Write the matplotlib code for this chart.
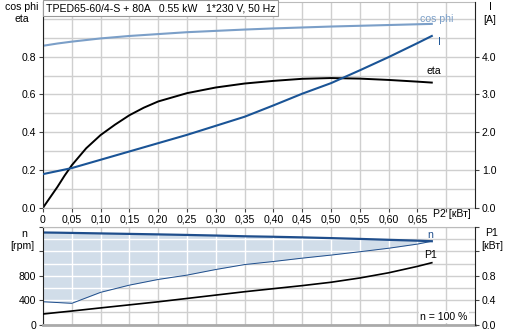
import matplotlib
matplotlib.use("Agg")
import matplotlib.pyplot as plt
import numpy as np

plt.rcParams['font.family'] = ['Liberation Sans', 'DejaVu Sans']
plt.rcParams['font.size'] = 7.6

# P2, кВт
p2 = [0, 0.025, 0.05, 0.1, 0.15, 0.2, 0.25, 0.3, 0.35, 0.4, 0.45, 0.5, 0.55, 0.6, 0.65, 0.675]
cos_phi = [0.858, 0.870, 0.880, 0.897, 0.910, 0.920, 0.930, 0.937, 0.944, 0.950,
           0.955, 0.960, 0.964, 0.968, 0.972, 0.974]
current = [0.89, 0.97, 1.05, 1.27, 1.49, 1.71, 1.93, 2.17, 2.41, 2.71,
           3.02, 3.30, 3.64, 3.99, 4.36, 4.55]
n_rpm = [1510, 1507, 1503, 1495, 1487, 1479, 1470, 1460, 1448, 1440,
         1430, 1418, 1405, 1390, 1376, 1367]
n_low = [376, 363, 350, 530, 648, 741, 812, 904, 985, 1035,
         1090, 1140, 1195, 1252, 1320, 1367]
p1 = [0.175, 0.2, 0.224, 0.275, 0.325, 0.375, 0.43, 0.485, 0.54, 0.59,
      0.64, 0.695, 0.765, 0.85, 0.955, 1.015]

p2_eta = [0, 0.0125, 0.025, 0.0375, 0.05, 0.075, 0.1, 0.125, 0.15, 0.175, 0.2, 0.25,
          0.3, 0.35, 0.4, 0.45, 0.5, 0.55, 0.6, 0.65, 0.675]
eta = [0.0, 0.055, 0.11, 0.17, 0.225, 0.315, 0.385, 0.44, 0.49, 0.53, 0.563, 0.607,
       0.637, 0.658, 0.672, 0.683, 0.687, 0.684, 0.677, 0.668, 0.663]

xticks = [0, 0.05, 0.10, 0.15, 0.20, 0.25, 0.30, 0.35, 0.40, 0.45, 0.50, 0.55, 0.60, 0.65, 0.70]
xlabels = ['0', '0,05', '0,10', '0,15', '0,20', '0,25', '0,30', '0,35', '0,40',
           '0,45', '0,50', '0,55', '0,60', '0,65', '']

c_cos = '#7b9fc8'
c_i = '#1a5496'
c_n = '#1f4e8c'
c_fill = '#d1dde9'
c_grid = '#cfcfcf'

fig = plt.figure(figsize=(5.08, 3.33), dpi=100)
W, H = 508, 333
L, R = 43, 475


def axes_px(top, bottom):
    return fig.add_axes([L / W, 1 - bottom / H, (R - L) / W, (bottom - top) / H])


# ---- верхний график ----
ax1 = axes_px(2, 207.7)
ax1.set_xlim(0, 0.75)
ax1.set_ylim(0, 1.09)
ax1.set_xticks(xticks)
ax1.set_xticklabels(xlabels)
ax1.set_yticks([0, 0.2, 0.4, 0.6, 0.8])
ax1.set_yticklabels(['0.0', '0.2', '0.4', '0.6', '0.8'])
ax1.set_yticks(np.arange(0.1, 1.05, 0.1), minor=True)
ax1.grid(True, which='both', color=c_grid, linewidth=1)
ax1.set_axisbelow(True)
ax1.tick_params(which='minor', length=0)
ax1.tick_params(length=3, width=0.8, color='#444444', pad=2)
for s in ['top', 'bottom']:
    ax1.spines[s].set_color('#bbbbbb')
ax1.spines['left'].set_color('#222222')
ax1.spines['right'].set_visible(False)

ax1.plot(p2, cos_phi, color=c_cos, linewidth=1.5)
ax1.plot(p2_eta, eta, color='black', linewidth=1.4)

ax1r = ax1.twinx()
ax1r.set_ylim(0, 5.45)
ax1r.set_yticks([0, 1, 2, 3, 4])
ax1r.set_yticklabels(['0.0', '1.0', '2.0', '3.0', '4.0'])
ax1r.tick_params(length=3, width=0.8, color='#444444', pad=2)
ax1r.spines['right'].set_color('#222222')
for s in ['top', 'bottom', 'left']:
    ax1r.spines[s].set_visible(False)
ax1r.plot(p2, current, color=c_i, linewidth=1.5)

ax1.text(0.655, 0.975, 'cos phi', color=c_cos, ha='left', va='bottom')
ax1.text(0.685, 4.38 / 5.45 * 1.09, 'I', color=c_i, ha='left', va='center')
ax1.text(0.665, 0.70, 'eta', color='black', ha='left', va='bottom')

ax1.text(0.006, 0.995, 'TPED65-60/4-S + 80A   0.55 kW   1*230 V, 50 Hz',
         transform=ax1.transAxes, ha='left', va='top',
         bbox=dict(boxstyle='square,pad=0.25', facecolor='white', edgecolor='#999999', linewidth=0.8))

fig.text(433 / W, 1 - 214 / H, 'P2 [кВт]', ha='left', va='center')

fig.text(22 / W, 1 - 7 / H, 'cos phi', ha='center', va='center')
fig.text(22 / W, 1 - 19 / H, 'eta', ha='center', va='center')
fig.text(490 / W, 1 - 7 / H, 'I', ha='center', va='center')
fig.text(490 / W, 1 - 20 / H, '[A]', ha='center', va='center')

# ---- нижний график ----
ax2 = axes_px(227, 324.7)
ax2.set_xlim(0, 0.75)
ax2.set_ylim(0, 1600)
ax2.set_xticks(xticks)
ax2.set_xticklabels([])
ax2.set_yticks([0, 400, 800, 1200, 1600])
ax2.set_yticklabels(['0', '400', '800', '', ''])
ax2.set_yticks(np.arange(200, 1600, 200), minor=True)
ax2.grid(True, which='both', color=c_grid, linewidth=1)
ax2.set_axisbelow(True)
ax2.tick_params(which='minor', length=0)
ax2.tick_params(axis='y', length=3, width=0.8, color='#444444', pad=2)
ax2.tick_params(axis='x', length=0)
ax2.spines['top'].set_color('#bbbbbb')
ax2.spines['bottom'].set_color('#aaaaaa')
ax2.spines['bottom'].set_linewidth(2)
ax2.spines['left'].set_color('#222222')
ax2.spines['right'].set_visible(False)

fill = ax2.fill_between(p2, n_low, n_rpm, color=c_fill, linewidth=0, zorder=1.5)
ax2.plot(p2, n_low, color=c_n, linewidth=0.7, zorder=2)
ax2.plot(p2, n_rpm, color=c_n, linewidth=1.6, zorder=2)

# белая сетка поверх заливки
clip_path = fill.get_paths()[0]
for xv in xticks[1:]:
    ln, = ax2.plot([xv, xv], [0, 1600], color='white', linewidth=1, zorder=1.6)
    ln.set_clip_path(clip_path, fill.get_transform())
for yv in range(200, 1600, 200):
    ln, = ax2.plot([0, 0.75], [yv, yv], color='white', linewidth=1, zorder=1.6)
    ln.set_clip_path(clip_path, fill.get_transform())

ax2r = ax2.twinx()
ax2r.set_ylim(0, 1.6)
ax2r.set_yticks([0, 0.4, 0.8, 1.2, 1.6])
ax2r.set_yticklabels(['0.0', '0.4', '0.8', '', ''])
ax2r.tick_params(length=3, width=0.8, color='#444444', pad=2)
ax2r.spines['right'].set_color('#222222')
for s in ['top', 'bottom', 'left']:
    ax2r.spines[s].set_visible(False)
ax2r.plot(p2, p1, color='black', linewidth=1.2)

ax2.text(0.668, 1395, 'n', color=c_n, ha='left', va='bottom')
ax2r.text(0.672, 1.06, 'P1', color='black', ha='center', va='bottom')
ax2.text(0.737, 40, 'n = 100 %', ha='right', va='bottom',
         bbox=dict(boxstyle='square,pad=0.1', facecolor='white', edgecolor='none'))

fig.text(24 / W, 1 - 234 / H, 'n', ha='center', va='center')
fig.text(22 / W, 1 - 246 / H, '[rpm]', ha='center', va='center')
fig.text(492 / W, 1 - 233 / H, 'P1', ha='center', va='center')
fig.text(492 / W, 1 - 246 / H, '[кВт]', ha='center', va='center')

fig.savefig('out.png', dpi=100)
